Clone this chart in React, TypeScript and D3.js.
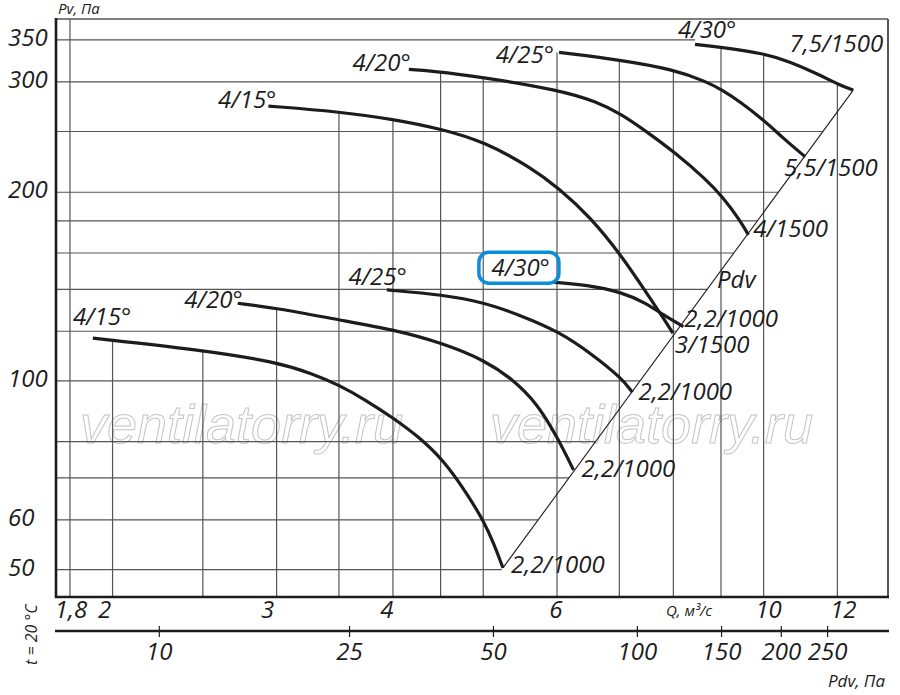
import * as d3 from 'd3';

// ---- data (Q in m3/s, Pv in Pa) ----
const gridQ = [1.8, 2, 2.5, 3, 3.5, 4, 4.5, 5, 6, 7, 8, 9, 10, 12];
const gridP = [50, 60, 70, 80, 100, 120, 140, 160, 180, 200, 250, 300, 350];
const qTickValues = [1.8, 2, 3, 4, 6, 10, 12];
const qTickLabels = ['1,8', '2', '3', '4', '6', '10', '12'];
const pTickValues = [350, 300, 200, 100, 60, 50];
const pdvTicks = [10, 25, 50, 100, 150, 200, 250];

// 1500 rpm
const u15 = [[2.94, 274.5], [3.5, 268.9], [4.0, 261.7], [4.53, 252], [5.01, 240.8], [5.61, 219.7], [6.03, 202.9], [6.51, 182.8], [7.03, 158.8], [7.49, 138], [7.8, 126.1], [7.99, 119.2]];
const u20 = [[4.16, 314.1], [4.38, 312.6], [5.01, 305.1], [6.03, 291.1], [6.62, 279], [7.03, 266.6], [7.49, 249.8], [8.01, 232.1], [8.69, 209.2], [9.03, 196.8], [9.43, 180.6], [9.63, 171]];
const u25 = [[6.03, 334.3], [7.03, 325.1], [8.0, 314.1], [8.69, 300.1], [9.03, 291.1], [9.43, 279], [10.0, 260.8], [10.5, 243.8], [11.08, 227.9]];
const u30 = [[8.44, 344.4], [9.03, 340.6], [10.0, 333.2], [10.67, 323.1], [11.5, 307.6], [12.06, 296.6], [12.48, 291.1]];
// 1000 rpm
const l15 = [[1.905, 117], [2.48, 112.1], [3.0, 107.2], [3.28, 102.6], [3.5, 98.5], [3.74, 93.2], [4.0, 87.3], [4.26, 81.5], [4.53, 74.8], [4.8, 66.2], [5.01, 59.6], [5.13, 55.1], [5.25, 50.3]];
const l20 = [[2.725, 133], [3.0, 130.7], [3.5, 125.1], [4.0, 120.8], [4.53, 114.8], [5.01, 108], [5.39, 100.4], [5.71, 92.1], [6.0, 81.5], [6.25, 72.1]];
const l25 = [[3.94, 139.7], [4.53, 137.2], [5.01, 133.4], [5.47, 127.4], [6.03, 119.9], [6.56, 110], [7.04, 101], [7.23, 95.9]];
const l30 = [[5.94, 143.7], [6.46, 142.3], [7.03, 138.7], [7.49, 133], [7.8, 127.4], [8.2, 122.1]];

const pdvLine = [[5.25, 50.3], [12.48, 291.1]];

const curveNames = ['u15', 'u20', 'u25', 'u30', 'l15', 'l20', 'l25', 'l30'];
const curveData: Record<string, number[][]> = { u15, u20, u25, u30, l15, l20, l25, l30 };
const startLabels = ['4/15°', '4/20°', '4/25°', '4/30°', '4/15°', '4/20°', '4/25°', '4/30°'];
const endLabels = ['3/1500', '4/1500', '5,5/1500', '7,5/1500', '2,2/1000', '2,2/1000', '2,2/1000', '2,2/1000'];

// which curve each vertical grid line starts from
const gridTopCurve: Record<string, string> = {
  '2': 'l15', '2.5': 'l15', '3': 'l20', '3.5': 'u15', '4': 'u15', '4.5': 'u20', '5': 'u20',
  '6': 'u25', '7': 'u25', '8': 'u25', '9': 'u30', '10': 'u30', '12': 'u30',
};

// ---- layout ----
const W = 900;
const H = 695;
const L = 56, R = 888, T = 19, B = 597;
const pdvAxisY = 631;

const x = d3.scaleLog().domain([1.739, 13.6]).range([L, R]);
const y = d3.scaleLog().domain([45.2, 378]).range([B, T]);
const xPdv = d3.scaleLog().domain([6.08, 334.4]).range([L, R]);

const FONT = "'Open Sans', 'DejaVu Sans', sans-serif";
const INK = '#1c1c1c';
const GRID = '#555';

// label offsets (px) from curve start / end points
const startOffsets: Record<string, [number, number, string]> = {
  u15: [8, 2, 'end'], u20: [2, 2, 'end'], u25: [-5, 11, 'end'], u30: [-17, -6, 'start'],
  l15: [-20, -13, 'start'], l20: [5, 5, 'end'], l25: [20, -5, 'end'], l30: [-3, -6, 'end'],
};
const endOffsets: Record<string, [number, number, string]> = {
  u15: [2, 20, 'start'], u20: [5, 2, 'start'], u25: [-21, 19, 'start'], u30: [30, -38, 'end'],
  l15: [8, 5, 'start'], l20: [8, 7, 'start'], l25: [6, 8, 'start'], l30: [1, 0, 'start'],
};
const qLabelDx: Record<string, number> = { '1.8': 1, '2': -8, '3': -9, '4': -6, '6': -1, '10': 5, '12': 6 };

const lg = Math.log;

// p of a curve at q (log-log linear)
function pAt(pts: number[][], q: number) {
  if (q <= pts[0][0]) return pts[0][1];
  for (let i = 1; i < pts.length; i++) {
    const [q0, p0] = pts[i - 1];
    const [q1, p1] = pts[i];
    if (q <= q1) {
      const t = (lg(q) - lg(q0)) / (lg(q1) - lg(q0));
      return Math.exp(lg(p0) + t * (lg(p1) - lg(p0)));
    }
  }
  return pts[pts.length - 1][1];
}

// q where a falling curve reaches p (log-log linear, extrapolated at the ends)
function qAt(pts: number[][], p: number) {
  if (p >= pts[0][1]) return pts[0][0];
  for (let i = 1; i < pts.length; i++) {
    const [q0, p0] = pts[i - 1];
    const [q1, p1] = pts[i];
    if (p >= p1 || i === pts.length - 1) {
      const t = (lg(p) - lg(p0)) / (lg(p1) - lg(p0));
      return Math.exp(lg(q0) + t * (lg(q1) - lg(q0)));
    }
  }
  return pts[pts.length - 1][0];
}

function qOnPdv(p: number) {
  const [[q0, p0], [q1, p1]] = pdvLine;
  const t = (lg(p) - lg(p0)) / (lg(p1) - lg(p0));
  return Math.exp(lg(q0) + t * (lg(q1) - lg(q0)));
}

const straight = d3
  .line<number[]>()
  .x((d) => x(d[0]))
  .y((d) => y(d[1]));

const smooth = d3
  .line<number[]>()
  .x((d) => x(d[0]))
  .y((d) => y(d[1]))
  .curve(d3.curveBasis);

export default function App() {
  const textStyle = { fontFamily: FONT, fontStyle: 'italic' as const, fill: INK };

  return (
    <div style={{ position: 'absolute', left: 0, top: 0, background: '#fff' }}>
      <svg width={W} height={H} viewBox={`0 0 ${W} ${H}`}>
        <rect width={W} height={H} fill="#fff" />

        {/* watermark */}
        {[80, 490].map((wx) => (
          <text
            key={wx}
            x={wx}
            y={443}
            style={{ fontFamily: "'Liberation Sans', Arial, sans-serif", fontStyle: 'italic' }}
            fontSize={54}
            fill="none"
            stroke="#c4c4c4"
            strokeWidth={1}
          >
            ventilatorry.ru
          </text>
        ))}

        {/* vertical grid */}
        {gridQ.map((q) => {
          const key = String(q);
          const c = gridTopCurve[key];
          const top = c ? y(pAt(curveData[c], q)) : T;
          return <line key={'v' + key} x1={x(q)} x2={x(q)} y1={top} y2={B} stroke={GRID} strokeWidth={1.2} />;
        })}

        {/* horizontal grid, up to the Pdv line / top curve */}
        {gridP.map((p) => {
          const qe = p > pdvLine[1][1] ? qAt(u30, p) : qOnPdv(p);
          return <line key={'h' + p} x1={L} x2={x(qe)} y1={y(p)} y2={y(p)} stroke={GRID} strokeWidth={1.2} />;
        })}

        {/* Pdv diagonal */}
        <path d={straight(pdvLine) || ''} fill="none" stroke={INK} strokeWidth={1.1} />

        {/* fan curves */}
        {curveNames.map((n) => (
          <path key={n} d={smooth(curveData[n]) || ''} fill="none" stroke={INK} strokeWidth={3.2} />
        ))}

        {/* start labels */}
        {curveNames.map((n, i) => {
          const s = curveData[n][0];
          const [dx, dy, anchor] = startOffsets[n];
          return (
            <text key={'s' + n} x={x(s[0]) + dx} y={y(s[1]) + dy} textAnchor={anchor} fontSize={24} style={textStyle}>
              {startLabels[i]}
            </text>
          );
        })}

        {/* highlighted label box */}
        {(() => {
          const s = l30[0];
          const sx = x(s[0]);
          const sy = y(s[1]);
          return <rect x={sx - 74} y={sy - 30} width={80} height={31} rx={10} fill="none" stroke="#0a8ddb" strokeWidth={3.5} />;
        })()}

        {/* end labels */}
        {curveNames.map((n, i) => {
          const pts = curveData[n];
          const e = pts[pts.length - 1];
          const [dx, dy, anchor] = endOffsets[n];
          return (
            <text key={'e' + n} x={x(e[0]) + dx} y={y(e[1]) + dy} textAnchor={anchor} fontSize={24} style={textStyle}>
              {endLabels[i]}
            </text>
          );
        })}

        <text x={717} y={288} fontSize={24} style={textStyle}>Pdv</text>

        {/* frame */}
        <line x1={L} x2={R} y1={T} y2={T} stroke={GRID} strokeWidth={1.6} />
        <line x1={R} x2={R} y1={T} y2={B} stroke={GRID} strokeWidth={2} />
        <line x1={L} x2={L} y1={T - 1} y2={B + 1} stroke={INK} strokeWidth={2.6} />
        <line x1={L - 1} x2={R + 1} y1={B} y2={B} stroke={INK} strokeWidth={2.6} />

        {/* Y tick labels */}
        {pTickValues.map((p) => (
          <text key={'yl' + p} x={8} y={y(p) + 6} fontSize={24} style={textStyle}>
            {p}
          </text>
        ))}
        <text x={58} y={14} fontSize={15} style={textStyle}>Pv, Па</text>

        {/* Q tick labels */}
        {qTickValues.map((q, i) => (
          <text key={'xl' + q} x={x(q) + (qLabelDx[String(q)] || 0)} y={618} textAnchor="middle" fontSize={24} style={textStyle}>
            {qTickLabels[i]}
          </text>
        ))}
        <text x={666} y={616} fontSize={15} style={textStyle}>Q, м³/с</text>

        {/* Pdv axis */}
        <line x1={L - 1} x2={R + 1} y1={pdvAxisY} y2={pdvAxisY} stroke={INK} strokeWidth={2.6} />
        {pdvTicks.map((v) => (
          <g key={'pd' + v}>
            <line x1={xPdv(v)} x2={xPdv(v)} y1={pdvAxisY - 5} y2={pdvAxisY + 6} stroke={INK} strokeWidth={1.2} />
            <text x={xPdv(v)} y={660} textAnchor="middle" fontSize={24} style={textStyle}>
              {v}
            </text>
          </g>
        ))}
        <text x={885} y={687} textAnchor="end" fontSize={17} style={textStyle}>Pdv, Па</text>

        <text transform="translate(37,665) rotate(-90)" fontSize={16} style={textStyle}>t = 20 °C</text>
      </svg>
    </div>
  );
}
